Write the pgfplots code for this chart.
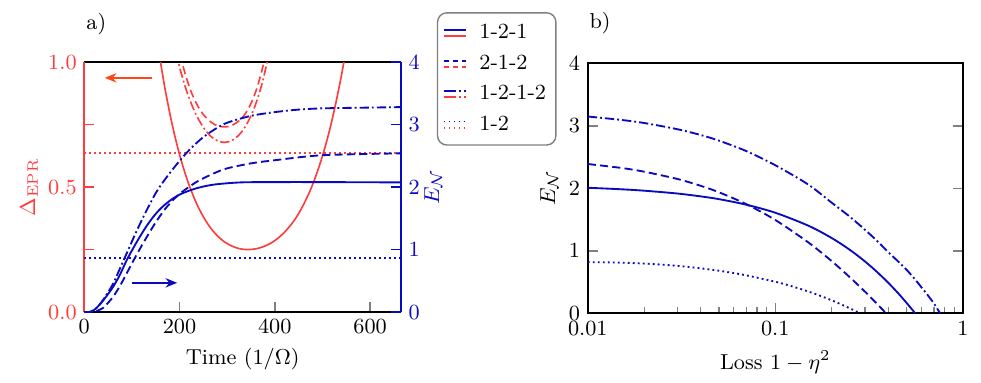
\RequirePackage{fix-cm}
\documentclass[border=0pt]{standalone}
\usepackage{pgfplots}
\pgfplotsset{compat=1.18}
\usetikzlibrary{arrows.meta}
\definecolor{eprred}{RGB}{255,60,60}
\definecolor{arrred}{RGB}{255,70,20}
\definecolor{enblue}{RGB}{10,10,190}

\pgfplotsset{
  duo/.style={legend image code/.code={
    \draw[enblue,line width=0.8pt,#1] (0pt,1.3pt) -- (9.5pt,1.3pt);
    \draw[eprred,line width=0.8pt,#1] (0pt,-1.3pt) -- (9.5pt,-1.3pt);}},
  ln/.style={line width=0.8pt},
  dsh/.style={dash pattern=on 3.5pt off 1.8pt},
  dsd/.style={dash pattern=on 4pt off 1.3pt on 0.8pt off 1.3pt},
  dtt/.style={dash pattern=on 0.8pt off 1.35pt},
}

\begin{document}
\fontsize{9.3}{11}\selectfont
\begin{tikzpicture}
% panel a, left axis: Delta_EPR
\begin{axis}[
    name=a,
    scale only axis,
    width=136.2pt, height=107.5pt,
    xmin=0, xmax=665, ymin=0, ymax=1,
    xtick={0,200,400,600},
    xtick pos=left,
    ytick={0,0.25,0.5,0.75,1},
    yticklabels={0.0,,0.5,,1.0},
    ytick pos=left,
    separate axis lines,
    axis line style={line width=0.8pt},
    y axis line style={eprred},
    ytick style={eprred},
    yticklabel style={eprred},
    tick style={line width=0.6pt},
    xlabel={Time $(1/\Omega)$},
    ylabel={$\Delta_{\mathrm{EPR}}$},
    ylabel style={eprred, yshift=-2pt},
]
% 1-2-1
\addplot[eprred, line width=0.7pt, smooth] coordinates {
  (155,1.07) (160,1.0) (170,0.888) (180,0.791) (190,0.705) (200,0.630)
  (210,0.565) (220,0.508) (235,0.437) (250,0.381) (265,0.337) (280,0.304)
  (295,0.280) (310,0.264) (325,0.254) (342,0.250) (360,0.253) (375,0.261)
  (390,0.274) (405,0.293) (420,0.319) (435,0.352) (450,0.394) (465,0.448)
  (480,0.513) (495,0.594) (510,0.691) (525,0.809) (540,0.948) (550,1.055)};
% 2-1-2
\addplot[eprred, line width=0.7pt, dsh, smooth] coordinates {
  (201,1.031) (205,1.0) (214,0.939) (224,0.883) (234,0.840) (244,0.806)
  (254,0.781) (264,0.763) (274,0.750) (284,0.743) (294,0.741) (304,0.743)
  (314,0.751) (324,0.764) (334,0.783) (344,0.812) (354,0.852) (364,0.905)
  (374,0.975) (377,1.0) (381,1.036)};
% 1-2-1-2
\addplot[eprred, line width=0.7pt, dsd, smooth] coordinates {
  (192,1.04) (196,1.009) (204,0.952) (214,0.889) (224,0.837) (234,0.793)
  (244,0.757) (254,0.728) (264,0.706) (274,0.691) (284,0.682) (294,0.679)
  (304,0.682) (314,0.691) (324,0.707) (334,0.730) (344,0.762) (354,0.803)
  (364,0.855) (374,0.920) (384,1.001) (388,1.038)};
% 1-2
\addplot[eprred, line width=0.7pt, dtt] coordinates {(0,0.637) (665,0.637)};
\draw[arrred, line width=0.8pt, -{Stealth[length=5pt,width=4pt]}]
  (axis cs:142,0.937) -- (axis cs:43,0.937);
\draw[enblue, line width=0.8pt, -{Stealth[length=5pt,width=4pt]}]
  (axis cs:100,0.117) -- (axis cs:195,0.117);
\end{axis}

% panel a, right axis: E_N
\begin{axis}[
    scale only axis,
    width=136.2pt, height=107.5pt,
    xmin=0, xmax=665, ymin=0, ymax=4,
    axis x line=none,
    axis y line*=right,
    ytick={0,1,2,3,4},
    axis line style={line width=0.8pt},
    y axis line style={enblue},
    ytick style={enblue, line width=0.6pt},
    yticklabel style={enblue},
    ylabel={$E_{\mathcal{N}}$},
    ylabel style={enblue, yshift=4.5pt},
    legend cell align=left,
    legend style={at={(1.113,1.2)}, anchor=north west,
      draw=black!50, rounded corners=4pt, line width=0.6pt,
      inner xsep=2.2pt, inner ysep=3pt, row sep=1.5pt,
      /tikz/every odd column/.append style={column sep=3.5pt}},
]
\addlegendimage{duo=solid}\addlegendentry{1-2-1}
\addlegendimage{duo={dash pattern=on 2.4pt off 1.6pt}}\addlegendentry{2-1-2}
\addlegendimage{duo={dash pattern=on 5.5pt off 1.2pt on 0.8pt off 1.2pt}}\addlegendentry{1-2-1-2}
\addlegendimage{duo={dash pattern=on 0.8pt off 1.35pt}}\addlegendentry{1-2}
% 1-2-1
\addplot[enblue, ln, smooth] coordinates {
  (0,0) (10,0) (20,0.03) (30,0.10) (40,0.19) (50,0.29) (61,0.41)
  (75,0.6) (89,0.83) (110,1.12) (131,1.38) (152,1.59) (174,1.75)
  (200,1.88) (235,1.98) (272,2.04) (328,2.075) (400,2.08) (500,2.08) (665,2.075)};
% 2-1-2
\addplot[enblue, ln, dsh, smooth] coordinates {
  (0,0) (18,0) (30,0.03) (40,0.07) (50,0.15) (61,0.25) (75,0.42) (89,0.62)
  (110,0.92) (131,1.20) (152,1.46) (174,1.69) (200,1.89) (235,2.08)
  (272,2.22) (300,2.30) (350,2.38) (400,2.43) (500,2.51) (665,2.54)};
% 1-2-1-2
\addplot[enblue, ln, dsd, smooth] coordinates {
  (0,0) (10,0) (20,0.03) (30,0.10) (40,0.20) (50,0.32) (61,0.46)
  (75,0.70) (89,0.94) (110,1.30) (131,1.63) (152,1.93) (174,2.17)
  (200,2.42) (225,2.63) (250,2.80) (275,2.93) (300,3.03) (350,3.14)
  (400,3.20) (450,3.24) (500,3.26) (580,3.27) (665,3.28)};
% 1-2
\addplot[enblue, ln, dtt] coordinates {(0,0.87) (665,0.87)};
\end{axis}
\node[anchor=west, inner sep=0pt] at ([shift={(0.7pt,16.3pt)}]a.north west) {a)};

% panel b
\begin{axis}[
    name=b,
    at={(216.5pt,-0.55pt)}, anchor=south west,
    scale only axis,
    width=161.3pt, height=107.5pt,
    xmode=log,
    xmin=0.01, xmax=1, ymin=0, ymax=4,
    xtick={0.01,0.1,1},
    xticklabels={0.01,0.1,1},
    minor xtick={0.02,0.03,0.04,0.05,0.06,0.07,0.08,0.09,0.2,0.3,0.4,0.5,0.6,0.7,0.8,0.9},
    xtick pos=left,
    ytick={0,1,2,3,4},
    ytick pos=both,
    yticklabel pos=left,
    axis line style={line width=0.8pt},
    tick style={line width=0.6pt},
    xlabel={Loss $1-\eta^2$},
    ylabel={$E_{\mathcal{N}}$},
    ylabel style={yshift=-1.7pt},
]
% 1-2-1
\addplot[enblue, ln, smooth] coordinates {
  (0.01,2.01) (0.015,1.986) (0.02,1.963) (0.03,1.918) (0.04,1.872)
  (0.05,1.828) (0.07,1.739) (0.1,1.610) (0.15,1.403) (0.2,1.205)
  (0.25,1.015) (0.3,0.833) (0.35,0.658) (0.4,0.490) (0.45,0.328)
  (0.5,0.171) (0.53,0.080) (0.557,0)};
% 2-1-2
\addplot[enblue, ln, dsh, smooth] coordinates {
  (0.01,2.39) (0.015,2.328) (0.02,2.267) (0.03,2.151) (0.04,2.041)
  (0.05,1.938) (0.07,1.748) (0.1,1.494) (0.15,1.135) (0.2,0.835)
  (0.25,0.576) (0.3,0.350) (0.35,0.147) (0.39,0)};
% 1-2-1-2
\addplot[enblue, ln, dsd, smooth] coordinates {
  (0.01,3.15) (0.015,3.096) (0.02,3.046) (0.03,2.947) (0.04,2.854)
  (0.05,2.764) (0.07,2.597) (0.1,2.370) (0.15,2.06) (0.2,1.77)
  (0.25,1.545) (0.3,1.34) (0.35,1.155) (0.4,0.98) (0.45,0.835)
  (0.5,0.70) (0.55,0.56) (0.6,0.42) (0.65,0.29) (0.7,0.16) (0.757,0)};
% 1-2
\addplot[enblue, ln, dtt, smooth] coordinates {
  (0.01,0.82) (0.01585,0.810) (0.02512,0.779) (0.03981,0.722)
  (0.0631,0.634) (0.1,0.506) (0.1259,0.423) (0.1585,0.325)
  (0.1995,0.210) (0.2512,0.077) (0.2831,0)};
\end{axis}
\node[anchor=west, inner sep=0pt] at ([shift={(0.6pt,17.3pt)}]b.north west) {b)};

\pgfresetboundingbox
\path[use as bounding box] (-36.25pt,-30.1pt) rectangle (385.6pt,134.2pt);
\end{tikzpicture}
\end{document}
